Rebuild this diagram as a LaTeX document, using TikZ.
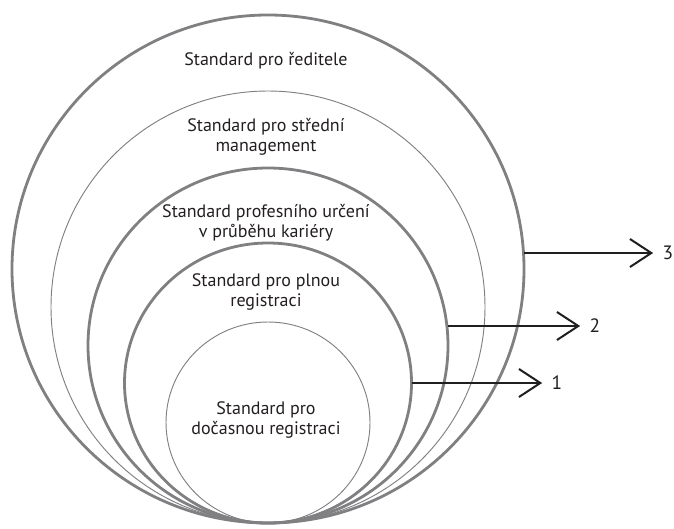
\documentclass[tikz,border=0pt]{standalone}
\usepackage{fontspec}
\setmainfont{PT Sans}
\usetikzlibrary{arrows.meta,positioning,shapes.geometric}
\definecolor{ringgray}{RGB}{128,128,131}
\definecolor{txtdark}{RGB}{35,31,32}
\tikzset{
  ring/.style ={ellipse,draw=ringgray,inner sep=0pt,outer sep=0pt},
  thk/.style  ={ring,line width=2.1pt},
  thn/.style  ={ring,line width=.7pt},
  lbl/.style  ={align=center,text=txtdark,inner sep=0pt,
                font=\fontsize{13.5}{15}\selectfont},
  num/.style  ={text=txtdark,inner sep=0pt,font=\fontsize{14.5}{15}\selectfont},
  narr/.style ={-{Straight Barb[length=16pt,width=21pt,line width=1.5pt]},
                line width=1.5pt,draw=black!88,shorten >=7pt},
}
\begin{document}
\begin{tikzpicture}[x=0.75pt,y=-0.75pt]
  \useasboundingbox (0,0) rectangle (674,528);

  % ---------- elipsy (zvenku dovnitr) ----------
  \node[thk] (e3) at (268,269)   [minimum width=384pt,   minimum height=381pt] {};
  \node[thn] (e2m) at (268,307)  [minimum width=325.5pt, minimum height=324pt] {};
  \node[thk] (e2) at (268,345.5) [minimum width=270pt,   minimum height=266.25pt] {};
  \node[thk] (e1) at (268,383)   [minimum width=215.25pt,minimum height=210pt] {};
  \node[thn] (e0) at (268,422.5) [minimum width=153pt,   minimum height=150.75pt] {};

  % ---------- texty ----------
  \node[lbl] (tred) at (266,61)   {Standard pro ředitele};
  \node[lbl] (tstr) at (266,137)  {Standard pro střední\\management};
  \node[lbl] (tprf) at (266,223)  {Standard profesního určení\\v průběhu kariéry};
  \node[lbl] (tpln) at (266,292)  {Standard pro plnou\\registraci};
  \node[lbl] (tdoc) at (266,420)  {Standard pro\\dočasnou registraci};

  % ---------- cisla + sipky ----------
  \node[num] (n3) at (668,253) {3};
  \node[num] (n2) at (595,326) {2};
  \node[num] (n1) at (557,383) {1};

  \draw[narr] (n3 -| e3.east) -- (n3.west);
  \draw[narr] (n2 -| e2.east) -- (n2.west);
  \draw[narr] (n1 -| e1.east) -- (n1.west);

\end{tikzpicture}
\end{document}
